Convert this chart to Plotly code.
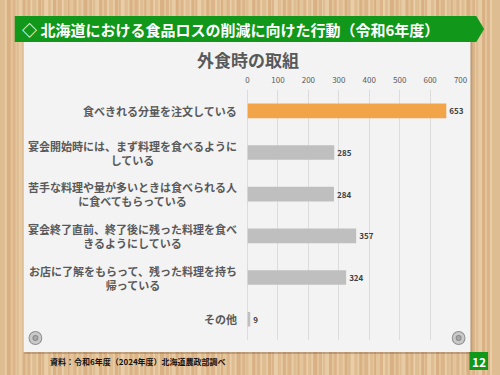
import plotly.graph_objects as go

W, H = 500, 375

categories = [
    "食べきれる分量を注文している",
    "宴会開始時には、まず料理を食べるように<br>している",
    "苦手な料理や量が多いときは食べられる人<br>に食べてもらっている",
    "宴会終了直前、終了後に残った料理を食べ<br>きるようにしている",
    "お店に了解をもらって、残った料理を持ち<br>帰っている",
    "その他",
]
values = [653, 285, 284, 357, 324, 9]
bar_colors = ["#F2A548", "#BFBFBF", "#BFBFBF", "#BFBFBF", "#BFBFBF", "#BFBFBF"]
x_ticks = [0, 100, 200, 300, 400, 500, 600, 700]

banner_title = "◇ 北海道における食品ロスの削減に向けた行動（令和6年度）"
chart_title = "外食時の取組"
source_text = "資料：令和6年度（2024年度）北海道農政部調べ"
page_no = "12"

FONT = "Noto Sans CJK JP"


def px(x):
    return x / W


def py(y):
    return 1 - y / H


ids = list(range(len(categories)))

fig = go.Figure()
fig.add_trace(go.Bar(
    x=values,
    y=ids,
    orientation="h",
    marker=dict(color=bar_colors, line=dict(width=0)),
    width=0.35,
    text=["<b>" + str(v) + "</b>" for v in values],
    textposition="outside",
    textfont=dict(size=8, color="#404040", family=FONT),
    cliponaxis=False,
    hoverinfo="skip",
))

shapes = []
# wood background stripes
stripe_cols = ["#dfbd92", "#e7cba4", "#d8b083", "#e3c49b", "#dbb589", "#e9cea8"]
x0 = 0
i = 0
widths = [3, 2, 4, 2, 3, 1, 2, 4, 3, 2]
while x0 < W:
    w = widths[i % len(widths)]
    shapes.append(dict(type="rect", xref="paper", yref="paper",
                       x0=px(x0), x1=px(x0 + w), y0=0, y1=1,
                       fillcolor=stripe_cols[i % len(stripe_cols)],
                       line=dict(width=0), layer="below"))
    x0 += w
    i += 1

# panel shadow and panel
shapes.append(dict(type="rect", xref="paper", yref="paper",
                   x0=px(23), x1=px(479), y0=py(354), y1=py(40),
                   fillcolor="rgba(120,90,60,0.35)", line=dict(width=0), layer="below"))
shapes.append(dict(type="rect", xref="paper", yref="paper",
                   x0=px(22), x1=px(477), y0=py(352), y1=py(40),
                   fillcolor="#f3f3f3", line=dict(width=0), layer="below"))

# banner
path = "M {a},{b} L {c},{b} L {d},{e} L {c},{f} L {a},{f} Z".format(
    a=px(13), b=py(16), c=px(483), d=px(491), e=py(29), f=py(42))
shapes.append(dict(type="path", xref="paper", yref="paper", path=path,
                   fillcolor="#11981a", line=dict(width=0), layer="below"))

# screws
for cx in (34, 465):
    cy = 338
    for r, col in ((7, "#8f8f8f"), (6, "#c9c9c9"), (3, "#8a8a8a"), (2, "#a8a8a8")):
        shapes.append(dict(type="circle", xref="paper", yref="paper",
                           x0=px(cx - r), x1=px(cx + r), y0=py(cy + r), y1=py(cy - r),
                           fillcolor=col, line=dict(width=0), layer="above"))

# page badge
shapes.append(dict(type="rect", xref="paper", yref="paper",
                   x0=px(476), x1=px(495), y0=py(370), y1=py(352),
                   fillcolor="#11981a", line=dict(width=0), layer="above"))

annotations = []
for cid, lab in zip(ids, categories):
    annotations.append(dict(x=px(241), xref="paper", y=cid, yref="y",
                            text="<b>" + lab + "</b>", showarrow=False, xanchor="right",
                            align="center",
                            font=dict(size=11, color="#595959", family=FONT)))

annotations.append(dict(x=px(18), y=py(29), xref="paper", yref="paper",
                        text="<b>" + banner_title + "</b>", showarrow=False, xanchor="left",
                        yanchor="middle",
                        font=dict(size=15, color="white", family=FONT)))
annotations.append(dict(x=px(251), y=py(59), xref="paper", yref="paper",
                        text="<b>" + chart_title + "</b>", showarrow=False, xanchor="center",
                        yanchor="middle",
                        font=dict(size=17, color="#595959", family=FONT)))
annotations.append(dict(x=px(47), y=py(361), xref="paper", yref="paper",
                        text="<b>" + source_text + "</b>", showarrow=False, xanchor="left",
                        yanchor="middle",
                        font=dict(size=8, color="#111111", family=FONT)))
annotations.append(dict(x=px(485.5), y=py(361), xref="paper", yref="paper",
                        text="<b>" + page_no + "</b>", showarrow=False, xanchor="center",
                        yanchor="middle",
                        font=dict(size=12, color="white", family=FONT)))

fig.update_layout(
    width=W, height=H,
    margin=dict(l=0, r=0, t=0, b=0),
    paper_bgcolor="#dfbd92",
    plot_bgcolor="rgba(0,0,0,0)",
    showlegend=False,
    shapes=shapes,
    annotations=annotations,
    font=dict(family=FONT),
    xaxis=dict(
        domain=[px(250), px(467)],
        range=[0, 700],
        side="top",
        tickvals=x_ticks,
        ticktext=[str(t) for t in x_ticks],
        tickfont=dict(size=8, color="#595959", family=FONT),
        showgrid=True, gridcolor="#dcdcdc", gridwidth=1,
        zeroline=True, zerolinecolor="#dcdcdc", zerolinewidth=1,
        showline=False, ticks="", ticklabelstandoff=4,
        fixedrange=True,
    ),
    yaxis=dict(
        domain=[py(340), py(90)],
        range=[5.5, -0.5],
        showticklabels=False,
        showgrid=False, zeroline=False, showline=False, ticks="",
        fixedrange=True,
    ),
)

fig.write_html("out.html")
